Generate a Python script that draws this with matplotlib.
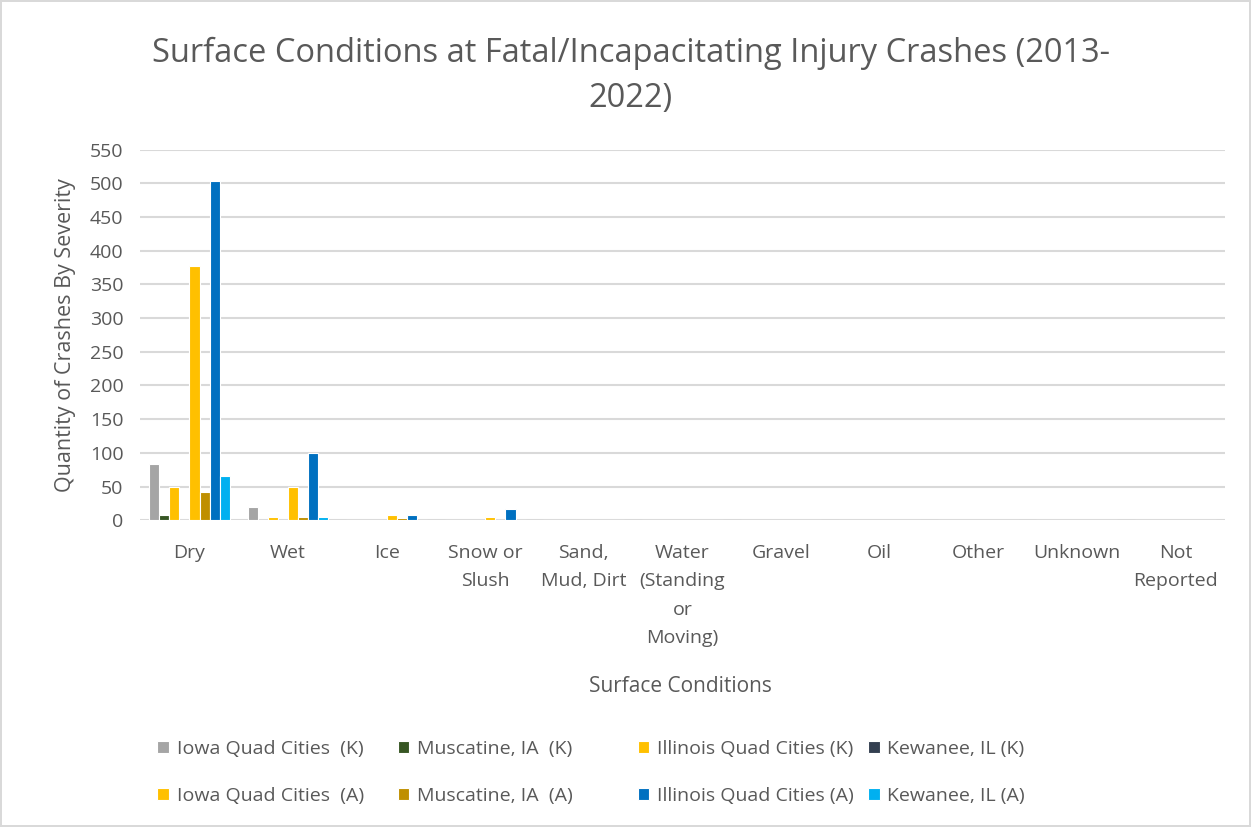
import matplotlib
matplotlib.use('Agg')
import matplotlib.pyplot as plt
from matplotlib import font_manager
import numpy as np

categories = ['Dry', 'Wet', 'Ice', 'Snow or\nSlush', 'Sand,\nMud, Dirt',
              'Water\n(Standing\nor\nMoving)', 'Gravel', 'Oil', 'Other',
              'Unknown', 'Not\nReported']

series_names = [
    'Iowa Quad Cities  (K)', 'Muscatine, IA  (K)', 'Illinois Quad Cities (K)', 'Kewanee, IL (K)',
    'Iowa Quad Cities  (A)', 'Muscatine, IA  (A)', 'Illinois Quad Cities (A)', 'Kewanee, IL (A)',
]

iowa_k      = [84, 19, 0, 0, 0, 0, 0, 0, 0, 0, 0]
muscatine_k = [8, 0, 0, 0, 0, 0, 0, 0, 0, 0, 0]
illinois_k  = [50, 4, 0, 0, 0, 0, 0, 0, 0, 0, 0]
kewanee_k   = [0, 0, 0, 0, 0, 0, 0, 0, 0, 0, 0]
iowa_a      = [378, 50, 8, 4, 0, 0, 0, 0, 0, 0, 0]
muscatine_a = [42, 4, 3, 0, 0, 0, 0, 0, 0, 0, 0]
illinois_a  = [504, 99, 8, 17, 0, 0, 0, 0, 0, 0, 0]
kewanee_a   = [65, 4, 0, 0, 0, 0, 0, 0, 0, 0, 0]

colors = ['#A5A5A5', '#375623', '#FFC000', '#333F50',
          '#FFC000', '#BF8F00', '#0070C0', '#00B0F0']

yticks = list(range(0, 551, 50))

txt = '#595959'
names = {f.name for f in font_manager.fontManager.ttflist}
fam = 'Liberation Sans Narrow' if 'Liberation Sans Narrow' in names else 'Open Sans'
plt.rcParams['font.family'] = [fam, 'DejaVu Sans']


def main():
    fig = plt.figure(figsize=(12.51, 8.27), dpi=100)
    fig.patch.set_edgecolor('#d9d9d9')
    fig.patch.set_linewidth(1.5)
    ax = fig.add_axes([0.112, 0.371, 0.867, 0.448])

    data = [iowa_k, muscatine_k, illinois_k, kewanee_k,
            iowa_a, muscatine_a, illinois_a, kewanee_a]
    x = np.arange(len(categories))
    w = 0.1025
    handles = []
    for i, (vals, c, n) in enumerate(zip(data, colors, series_names)):
        off = (i - 3.5) * w
        h = ax.bar(x + off, vals, width=w, color=c, edgecolor='white',
                   linewidth=0.8, label=n, zorder=3)
        handles.append(h)

    ax.set_xlim(-0.5, len(categories) - 0.5)
    ax.set_ylim(0, 550)
    ax.set_yticks(yticks)
    ax.set_xticks(x)
    ax.set_xticklabels(categories, fontsize=14, color=txt, linespacing=1.75)
    ax.tick_params(axis='y', labelsize=14, labelcolor=txt, length=0, pad=12)
    ax.tick_params(axis='x', length=0, pad=17)
    ax.grid(axis='y', color='#d9d9d9', linewidth=1.5, zorder=0)
    for s in ax.spines.values():
        s.set_visible(False)

    ax.set_ylabel('Quantity of Crashes By Severity', fontsize=15.5, color=txt, labelpad=10)
    fig.text(0.544, 0.17, 'Surface Conditions', fontsize=15, color=txt,
             ha='center', va='center')
    fig.text(0.504, 0.908, 'Surface Conditions at Fatal/Incapacitating Injury Crashes (2013-\n2022)',
             fontsize=23.5, color=txt, ha='center', va='center', linespacing=1.5)

    # one legend per column, so columns sit where the reference has them
    col_x = [0.118, 0.310, 0.502, 0.686]
    for j, cx in enumerate(col_x):
        leg = fig.legend(handles=[handles[j], handles[j + 4]], loc='center left',
                         bbox_to_anchor=(cx, 0.066), frameon=False, fontsize=14,
                         handlelength=0.6, handleheight=0.6, handletextpad=0.4,
                         labelspacing=1.5, borderpad=0)
        for t in leg.get_texts():
            t.set_color(txt)

    fig.savefig('out.png', dpi=100)


if __name__ == '__main__':
    main()
